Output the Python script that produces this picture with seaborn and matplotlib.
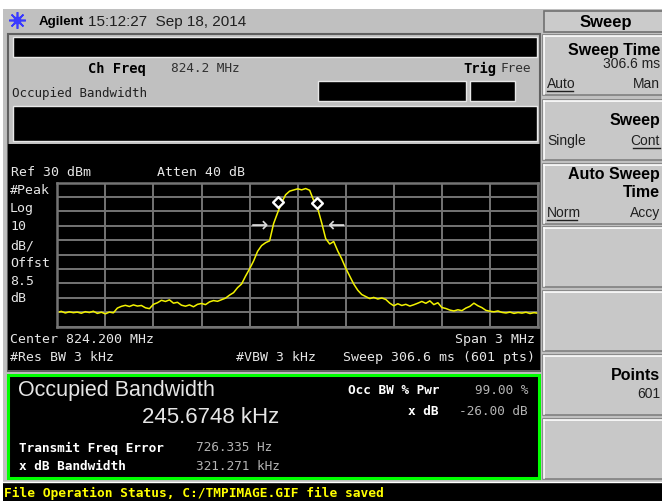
import numpy as np
import pandas as pd
import seaborn as sns
import matplotlib
matplotlib.use("Agg")
import matplotlib.pyplot as plt
from matplotlib.patches import Rectangle

# sweep settings
center_mhz = 824.2
span_mhz = 3.0
ref_dbm = 30
db_per_div = 10

# trace (dBm), 121 samples across the span
trace_dbm = [
    -60.2, -59.5, -60.6, -59.8, -60.4, -60.0, -60.8, -59.7, -60.3, -59.4,
    -60.9, -60.1, -61.2, -60.0, -60.5, -57.2, -56.0, -55.3, -56.1, -55.0,
    -55.8, -55.4, -57.0, -57.6, -54.6, -53.5, -51.8, -52.6, -51.5, -53.8,
    -53.2, -55.2, -55.9, -55.0, -56.3, -54.6, -54.0, -54.8, -52.9, -52.0,
    -52.5, -51.4, -50.3, -48.2, -46.5, -43.0, -40.5, -35.0, -30.0, -24.5,
    -17.8, -13.8, -11.8, -10.5, 1.5, 9.0, 16.0, 21.5, 24.0, 24.8,
    25.6, 24.9, 25.8, 24.6, 17.5, 12.0, 2.0, -9.0, -12.7, -11.0,
    -17.5, -23.0, -29.5, -35.0, -40.5, -44.8, -47.8, -49.2, -50.6, -49.8,
    -50.9, -50.2, -51.2, -53.8, -55.6, -54.2, -55.4, -54.6, -55.8, -54.9,
    -53.8, -52.6, -53.9, -52.2, -54.8, -53.5, -56.8, -57.5, -58.6, -59.2,
    -58.4, -59.0, -57.2, -56.0, -53.8, -55.6, -56.9, -58.8, -59.4, -59.8,
    -59.2, -60.2, -60.6, -60.0, -60.9, -60.3, -60.7, -60.1, -61.0, -60.4,
    -60.8,
]

# measurement results
obw_khz = 245.6748
freq_err_hz = 726.335
xdb_bw_khz = 321.271
marker_dbm = [16.4, 15.9]
arrow_dbm = 0.5

f_start = center_mhz - span_mhz / 2
f_stop = center_mhz + span_mhz / 2
df = pd.DataFrame({
    "freq": np.linspace(f_start, f_stop, len(trace_dbm)),
    "dbm": trace_dbm,
})
f0 = center_mhz + freq_err_hz / 1e6
markers = pd.DataFrame({
    "freq": [f0 - obw_khz / 2000, f0 + obw_khz / 2000],
    "dbm": marker_dbm,
})
xdb_edges = [f0 - xdb_bw_khz / 2000, f0 + xdb_bw_khz / 2000]

MONO = "DejaVu Sans Mono"
SANS = "Liberation Sans"
GRAY = "#c0c0c0"
KEY = "#c8c8c8"
LT = "#e6e6e6"
DIM = "#b4b4b4"

fig = plt.figure(figsize=(6.62, 5.02), dpi=100)
fig.patch.set_facecolor("white")

# background axes in pixel coordinates
bg = fig.add_axes([0, 0, 1, 1])
bg.set_xlim(0, 662)
bg.set_ylim(502, 0)
bg.axis("off")


def box(x, y, w, h, fc, ec="none", lw=0):
    bg.add_patch(Rectangle((x, y), w, h, facecolor=fc, edgecolor=ec, linewidth=lw))


def put(x, y, s, size=9.2, color=LT, weight="normal", ha="left", family=MONO):
    bg.text(x, y, s, fontsize=size, color=color, fontweight=weight, ha=ha,
            va="center", family=family)


def key(y, h):
    box(543, y, 125, h, KEY, "#808080", 1.2)
    bg.plot([544, 662], [y + 1, y + 1], color="white", lw=1.2)
    bg.plot([544, 544], [y + 1, y + h - 1], color="white", lw=1.2)


# panels
box(3, 10, 659, 492, GRAY)
box(3, 484, 659, 18, "black")
bg.plot([3, 662], [483, 483], color="white", lw=1)

# header
bg.plot(17, 21, marker=(8, 2, 0), ms=12, color="#3a3aff", mew=1.2)
bg.plot(17, 21, marker="s", ms=4, color="#3a3aff")
put(39, 22, "Agilent", size=9.6, color="black", weight="bold", family=SANS)
put(88, 22, "15:12:27  Sep 18, 2014", size=11, color="#202020", family=SANS)

# left screen frame
box(8, 35, 532, 337, GRAY, "#606060", 1.5)
box(13, 38, 524, 20, "black", "#e8e8e8", 1)
put(88, 69, "Ch Freq", size=9.9, color="black", weight="bold")
put(171, 69, "824.2 MHz", size=9.2, color="#303030")
put(463, 69, "Trig", size=9.9, color="black", weight="bold")
put(500, 69, "Free", size=9.2, color="#303030")
put(12, 93, "Occupied Bandwidth", size=9.0, color="#202020")
box(318, 82, 148, 20, "black", "#e8e8e8", 1)
box(470, 82, 45, 20, "black", "#e8e8e8", 1)
box(13, 107, 524, 35, "black", "#e8e8e8", 1)

# display region
box(8, 145, 532, 226, "black")
put(11, 173, "Ref 30 dBm", size=9.5)
put(157, 173, "Atten 40 dB", size=9.5)
for yy, s in zip([191, 209, 227, 246, 264, 282, 299],
                 ["#Peak", "Log", "10", "dB/", "Offst", "8.5", "dB"]):
    put(10, yy, s, size=9.5)
put(10, 340, "Center 824.200 MHz", size=9.5)
put(535, 340, "Span 3 MHz", ha="right", size=9.5)
put(10, 358, "#Res BW 3 kHz", size=9.5)
put(236, 358, "#VBW 3 kHz", size=9.5)
put(535, 358, "Sweep 306.6 ms (601 pts)", ha="right", size=9.5)

# results box
box(8, 376, 531, 103, "black", "#00ff00", 2.2)
put(18, 391, "Occupied Bandwidth", size=15.5, family=SANS)
put(142, 418, "245.6748 kHz", size=16, family=SANS)
put(19, 448, "Transmit Freq Error", size=9.2, weight="bold", color="white")
put(196, 448, "726.335 Hz", color=DIM)
put(19, 467, "x dB Bandwidth", size=9.2, weight="bold", color="white")
put(196, 467, "321.271 kHz", color=DIM)
put(439, 391, "Occ BW % Pwr", size=9.2, weight="bold", color="white", ha="right")
put(528, 391, "99.00 %", color=DIM, ha="right")
put(439, 412, "x dB", size=9.2, weight="bold", color="white", ha="right")
put(528, 412, "-26.00 dB", color=DIM, ha="right")

# status line
put(4, 493, "File Operation Status, C:/TMPIMAGE.GIF file saved", size=9.3,
    color="#ffff00", weight="bold")

# softkeys
box(544, 12, 124, 21, "#cbcbcb", "#707070", 1.2)
put(606, 22, "Sweep", size=12, color="black", weight="bold", ha="center", family=SANS)
for y0 in [36, 101, 165, 228, 292, 356, 420]:
    key(y0, 60)
put(660, 50, "Sweep Time", size=11.5, color="black", weight="bold", ha="right", family=SANS)
put(660, 64, "306.6 ms", size=10, color="#202020", ha="right", family=SANS)
put(547, 84, "Auto", size=10, color="#202020", family=SANS)
bg.plot([547, 573], [92, 92], color="#202020", lw=1)
put(660, 84, "Man", size=10, color="#202020", ha="right", family=SANS)
put(660, 120, "Sweep", size=11.5, color="black", weight="bold", ha="right", family=SANS)
put(547, 141, "Single", size=10, color="#202020", family=SANS)
put(660, 141, "Cont", size=10, color="#202020", ha="right", family=SANS)
bg.plot([633, 660], [149, 149], color="#202020", lw=1)
put(660, 175, "Auto Sweep", size=11.5, color="black", weight="bold", ha="right", family=SANS)
put(660, 193, "Time", size=11.5, color="black", weight="bold", ha="right", family=SANS)
put(547, 213, "Norm", size=10, color="#202020", family=SANS)
bg.plot([547, 577], [221, 221], color="#202020", lw=1)
put(660, 213, "Accy", size=10, color="#202020", ha="right", family=SANS)
put(660, 376, "Points", size=11.5, color="black", weight="bold", ha="right", family=SANS)
put(660, 394, "601", size=10, color="#202020", ha="right", family=SANS)

# graticule and trace
ax = fig.add_axes([57.3 / 662, 1 - 327.5 / 502, 480.7 / 662, 144 / 502])
ax.set_facecolor("black")
sns.lineplot(data=df, x="freq", y="dbm", ax=ax, color="#f2f200", lw=1.1)
sns.scatterplot(data=markers, x="freq", y="dbm", ax=ax, marker="D", s=30,
                facecolor="black", edgecolor="white", linewidth=1.7, zorder=5)
ax.annotate("\u2192", (xdb_edges[0], arrow_dbm), xytext=(-3, 0),
            textcoords="offset points", ha="right", va="center",
            color="#d8d8d8", fontsize=15)
ax.annotate("\u2190", (xdb_edges[1], arrow_dbm), xytext=(3, 0),
            textcoords="offset points", ha="left", va="center",
            color="#d8d8d8", fontsize=15)
ax.set_xlim(f_start, f_stop)
ax.set_ylim(ref_dbm - 10 * db_per_div, ref_dbm)
ax.set_xticks(np.linspace(f_start, f_stop, 11))
ax.set_yticks(np.arange(ref_dbm - 10 * db_per_div, ref_dbm + 1, db_per_div))
ax.grid(True, color="#747474", lw=1.4)
ax.set_axisbelow(True)
ax.tick_params(length=0, labelbottom=False, labelleft=False)
for sp in ax.spines.values():
    sp.set_color("#747474")
    sp.set_linewidth(1.8)
ax.set_xlabel("")
ax.set_ylabel("")

fig.savefig("out.png", dpi=100, facecolor=fig.get_facecolor())
